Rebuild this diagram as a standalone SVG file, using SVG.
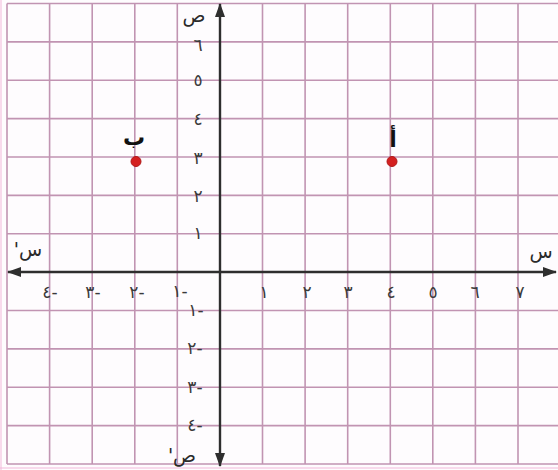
<svg xmlns="http://www.w3.org/2000/svg" width="558" height="470" viewBox="0 0 558 470">
<style>
.g{stroke:#c194b2;stroke-width:1.6;fill:none}
.gf{stroke:#f2b8da;stroke-width:1;fill:none}
.ax{stroke:#2e2e2e;stroke-width:2.4;fill:none}
.n{font-family:"DejaVu Sans",sans-serif;font-size:17px;fill:#3a3a3a;text-anchor:middle;unicode-bidi:bidi-override;direction:ltr}
.al{font-family:"DejaVu Sans",sans-serif;font-size:19px;fill:#2a2a2a;text-anchor:middle}
.pl{font-family:"DejaVu Sans",sans-serif;font-size:22px;font-weight:bold;fill:#111;text-anchor:middle}
.pt{fill:#d42020;stroke:#b01818;stroke-width:1}
</style>
<defs>
<marker id="arr" viewBox="0 0 14 10" refX="13" refY="5" markerWidth="14" markerHeight="10" markerUnits="userSpaceOnUse" orient="auto">
<path d="M0,0 L14,5 L0,10 Z" fill="#2e2e2e"/>
</marker>
</defs>
<rect width="558" height="470" fill="#fefcfe"/>
<g id="grid">
<line class="gf" x1="1" y1="0" x2="1" y2="470"/>
<line class="gf" x1="0" y1="468" x2="558" y2="468"/>
<g class="g">
<line x1="7" y1="3.5" x2="7" y2="464"/>
<line x1="49.6" y1="3.5" x2="49.6" y2="464"/>
<line x1="92.2" y1="3.5" x2="92.2" y2="464"/>
<line x1="134.8" y1="3.5" x2="134.8" y2="464"/>
<line x1="177.3" y1="3.5" x2="177.3" y2="464"/>
<line x1="262.5" y1="3.5" x2="262.5" y2="464"/>
<line x1="305.1" y1="3.5" x2="305.1" y2="464"/>
<line x1="347.7" y1="3.5" x2="347.7" y2="464"/>
<line x1="390.3" y1="3.5" x2="390.3" y2="464"/>
<line x1="432.8" y1="3.5" x2="432.8" y2="464"/>
<line x1="475.4" y1="3.5" x2="475.4" y2="464"/>
<line x1="518" y1="3.5" x2="518" y2="464"/>
<line x1="7" y1="3.5" x2="558" y2="3.5"/>
<line x1="7" y1="41.9" x2="558" y2="41.9"/>
<line x1="7" y1="80.3" x2="558" y2="80.3"/>
<line x1="7" y1="118.6" x2="558" y2="118.6"/>
<line x1="7" y1="157" x2="558" y2="157"/>
<line x1="7" y1="195.4" x2="558" y2="195.4"/>
<line x1="7" y1="233.8" x2="558" y2="233.8"/>
<line x1="7" y1="310.5" x2="558" y2="310.5"/>
<line x1="7" y1="348.9" x2="558" y2="348.9"/>
<line x1="7" y1="387.3" x2="558" y2="387.3"/>
<line x1="7" y1="425.6" x2="558" y2="425.6"/>
<line x1="7" y1="464" x2="558" y2="464"/>
</g>
</g>
<g id="connectors">
<line class="ax" x1="220" y1="272" x2="556" y2="272" marker-end="url(#arr)"/>
<line class="ax" x1="220" y1="272" x2="8" y2="272" marker-end="url(#arr)"/>
<line class="ax" x1="220" y1="272" x2="220" y2="4" marker-end="url(#arr)"/>
<line class="ax" x1="220" y1="272" x2="220" y2="466" marker-end="url(#arr)"/>
</g>
<g id="axis-labels">
<text class="al" x="541" y="258">س</text>
<text class="al" x="28" y="256" direction="rtl" style="unicode-bidi:embed">س'</text>
<text class="al" x="194" y="22">ص</text>
<text class="al" x="182" y="462" direction="rtl" style="unicode-bidi:embed">ص'</text>
</g>
<g id="tick-labels">
<text class="n" x="198" y="51">٦</text>
<text class="n" x="198" y="86">٥</text>
<text class="n" x="198" y="125">٤</text>
<text class="n" x="198" y="164">٣</text>
<text class="n" x="198" y="202">٢</text>
<text class="n" x="198" y="239">١</text>
<text class="n" x="196" y="316">١-</text>
<text class="n" x="195" y="354">٢-</text>
<text class="n" x="195" y="393">٣-</text>
<text class="n" x="195" y="431">٤-</text>
<text class="n" x="50" y="298">٤-</text>
<text class="n" x="93" y="298">٣-</text>
<text class="n" x="137" y="298">٢-</text>
<text class="n" x="180" y="297">١-</text>
<text class="n" x="264" y="298">١</text>
<text class="n" x="307" y="298">٢</text>
<text class="n" x="348" y="298">٣</text>
<text class="n" x="391" y="298">٤</text>
<text class="n" x="433" y="298">٥</text>
<text class="n" x="475" y="298">٦</text>
<text class="n" x="520" y="298">٧</text>
</g>
<g id="point-a">
<circle class="pt" cx="392" cy="161.5" r="5"/>
<text class="pl" x="393" y="147">أ</text>
</g>
<g id="point-b">
<circle class="pt" cx="136" cy="161.5" r="5"/>
<text class="pl" x="134" y="145">ب</text>
</g>
</svg>
